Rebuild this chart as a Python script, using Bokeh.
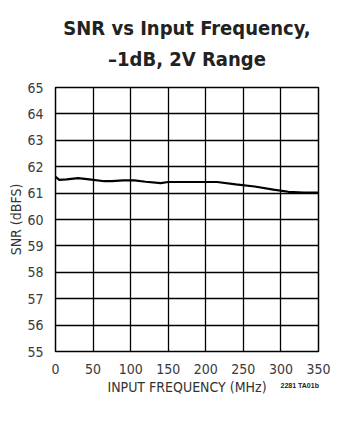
from bokeh.plotting import figure
from bokeh.models import Range1d, Title, FixedTicker, LinearAxis
from bokeh.embed import file_html
from bokeh.resources import INLINE

freq_mhz = [0, 5, 15, 30, 45, 65, 75, 90, 105, 120, 140, 150, 180, 215, 240, 265, 290, 310, 330, 350]
snr_dbfs = [61.62, 61.50, 61.52, 61.57, 61.52, 61.45, 61.45, 61.48, 61.48, 61.43,
            61.38, 61.42, 61.42, 61.42, 61.33, 61.25, 61.13, 61.05, 61.02, 61.02]
x_ticks = [0, 50, 100, 150, 200, 250, 300, 350]
y_ticks = [55, 56, 57, 58, 59, 60, 61, 62, 63, 64, 65]
note_text = "2281 TA01b"
note_pos = [325]
title_lines = ["SNR vs Input Frequency,", "\u20131dB, 2V Range"]

W, H = 351, 421
L, R, T, B = 55, 33, 87, 70

p = figure(width=W, height=H, output_backend="svg", toolbar_location=None,
           x_range=Range1d(0, 350), y_range=Range1d(55, 65),
           min_border_left=L, min_border_right=R, min_border_top=T, min_border_bottom=B)
p.title.visible = False
p.background_fill_color = "white"
p.border_fill_color = "white"
p.outline_line_color = "black"
p.outline_line_width = 1.5

for ax in (p.xaxis, p.yaxis):
    ax.major_tick_line_color = None
    ax.minor_tick_line_color = None
    ax.axis_line_color = None
    ax.major_label_text_font = "DejaVu Sans Condensed"
    ax.major_label_text_font_size = "14px"
    ax.major_label_text_color = "#3a3a3a"
    ax.axis_label_text_font = "DejaVu Sans Condensed"
    ax.axis_label_text_font_size = "14px"
    ax.axis_label_text_font_style = "normal"
    ax.axis_label_text_color = "#333333"
p.xaxis.ticker = FixedTicker(ticks=x_ticks)
p.yaxis.ticker = FixedTicker(ticks=y_ticks)
p.xaxis.major_label_standoff = 6
p.yaxis.major_label_standoff = 6
p.xaxis.axis_label = "INPUT FREQUENCY (MHz)"
p.yaxis.axis_label = "SNR (dBFS)"
p.xaxis.axis_label_standoff = 2
p.yaxis.axis_label_standoff = 0

p.grid.grid_line_color = "black"
p.grid.grid_line_width = 1.3
p.grid.grid_line_alpha = 1.0

p.line(freq_mhz, snr_dbfs, line_color="black", line_width=2.2)

# small figure-number note, drawn as a tick label of an extra bottom axis
note_axis = LinearAxis(ticker=FixedTicker(ticks=note_pos),
                       major_label_overrides={note_pos[0]: note_text})
note_axis.axis_line_color = None
note_axis.major_tick_line_color = None
note_axis.minor_tick_line_color = None
note_axis.major_label_text_font = "Liberation Sans"
note_axis.major_label_text_font_size = "7px"
note_axis.major_label_text_font_style = "bold"
note_axis.major_label_text_color = "#222222"
note_axis.major_label_standoff = -22
p.add_layout(note_axis, "below")

t2 = Title(text=title_lines[1], align="center", text_font="DejaVu Sans Condensed",
           text_font_size="20px", text_font_style="bold", text_color="#222222", standoff=33)
t1 = Title(text=title_lines[0], align="center", text_font="DejaVu Sans Condensed",
           text_font_size="20px", text_font_style="bold", text_color="#222222", standoff=-22)
p.add_layout(t2, "above")
p.add_layout(t1, "above")

open("out.html", "w").write(file_html(p, INLINE))
